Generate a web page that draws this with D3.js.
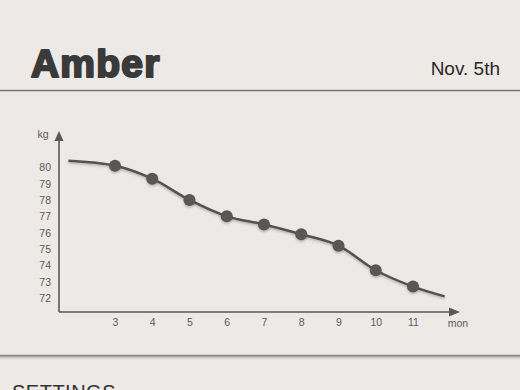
<!DOCTYPE html>
<html>
<head>
<meta charset="utf-8">
<script src="https://cdn.jsdelivr.net/npm/d3@7"></script>
<style>
  html, body { margin: 0; padding: 0; background: #ede9e6; }
  svg { display: block; font-family: 'Liberation Sans', Arial, sans-serif; }
</style>
</head>
<body>
<div id="chart"></div>
<script>
// months with a dot
var months = [3, 4, 5, 6, 7, 8, 9, 10, 11];
var weights = [80.1, 79.3, 78.0, 77.0, 76.5, 75.9, 75.2, 73.7, 72.7];
// the curve runs a little past the first and last dots
var lineMonths = [1.75, 3, 4, 5, 6, 7, 8, 9, 10, 11, 11.85];
var lineWeights = [80.4, 80.1, 79.3, 78.0, 77.0, 76.5, 75.9, 75.2, 73.7, 72.7, 72.1];
var yTicks = [72, 73, 74, 75, 76, 77, 78, 79, 80];
var userName = 'Amber';
var dateLabel = 'Nov. 5th';

var W = 520, H = 390;
var svg = d3.select('#chart').append('svg')
  .attr('width', W).attr('height', H);

var defs = svg.append('defs');
var shadow = defs.append('filter').attr('id', 'shadow')
  .attr('x', '-20%').attr('y', '-20%').attr('width', '140%').attr('height', '160%');
shadow.append('feDropShadow')
  .attr('dx', 0).attr('dy', 1.5).attr('stdDeviation', 1.2)
  .attr('flood-color', '#000').attr('flood-opacity', 0.25);

var grad = defs.append('linearGradient').attr('id', 'fade')
  .attr('x1', 0).attr('y1', 0).attr('x2', 0).attr('y2', 1);
grad.append('stop').attr('offset', 0).attr('stop-color', '#8a8580').attr('stop-opacity', 0.7);
grad.append('stop').attr('offset', 1).attr('stop-color', '#ede9e6').attr('stop-opacity', 0);

svg.append('rect').attr('width', W).attr('height', H).attr('fill', '#ede9e6');

// header
svg.append('text')
  .attr('x', 31).attr('y', 77)
  .attr('font-size', 39).attr('font-weight', 'bold')
  .attr('letter-spacing', 1.2)
  .attr('fill', '#3a3a3a').attr('stroke', '#3a3a3a').attr('stroke-width', 2.2)
  .attr('stroke-linejoin', 'round')
  .text(userName);

svg.append('text')
  .attr('x', 500).attr('y', 75)
  .attr('text-anchor', 'end')
  .attr('font-size', 19).attr('fill', '#2a2a2a')
  .text(dateLabel);

svg.append('line')
  .attr('x1', 0).attr('x2', W).attr('y1', 90.5).attr('y2', 90.5)
  .attr('stroke', '#7a7672').attr('stroke-width', 1.5);

// scales
var x = d3.scaleLinear().domain([3, 11]).range([115, 413]);
var y = d3.scaleLinear().domain([72, 80]).range([298, 167.3]);

var axisX0 = 59, axisY0 = 312;
var axisColor = '#5a5755';
var labelColor = '#5e5b59';

// y axis with arrow
svg.append('line')
  .attr('x1', axisX0).attr('x2', axisX0).attr('y1', 138).attr('y2', axisY0)
  .attr('stroke', axisColor).attr('stroke-width', 1.6);
svg.append('path')
  .attr('d', 'M' + axisX0 + ',131 L' + (axisX0 - 4.5) + ',141 L' + (axisX0 + 4.5) + ',141 Z')
  .attr('fill', axisColor);
svg.append('text')
  .attr('x', 43).attr('y', 138)
  .attr('text-anchor', 'middle')
  .attr('font-size', 10.5).attr('fill', labelColor)
  .text('kg');

var yAxis = d3.axisLeft(y).tickValues(yTicks).tickSize(0).tickPadding(0);
var gy = svg.append('g')
  .attr('transform', 'translate(51,0)')
  .call(yAxis);
gy.select('.domain').remove();
gy.selectAll('text')
  .attr('font-size', 10.5).attr('fill', labelColor)
  .attr('font-family', 'Liberation Sans, Arial, sans-serif');

// x axis with arrow
svg.append('line')
  .attr('x1', axisX0).attr('x2', 452).attr('y1', axisY0).attr('y2', axisY0)
  .attr('stroke', axisColor).attr('stroke-width', 1.6);
svg.append('path')
  .attr('d', 'M460,' + axisY0 + ' L449,' + (axisY0 - 4.5) + ' L449,' + (axisY0 + 4.5) + ' Z')
  .attr('fill', axisColor);

var xAxis = d3.axisBottom(x).tickValues(months).tickSize(0).tickPadding(0);
var gx = svg.append('g')
  .attr('transform', 'translate(0,' + (axisY0 + 7) + ')')
  .call(xAxis);
gx.select('.domain').remove();
gx.selectAll('text')
  .attr('font-size', 10.5).attr('fill', labelColor)
  .attr('font-family', 'Liberation Sans, Arial, sans-serif');

svg.append('text')
  .attr('x', 458).attr('y', 327)
  .attr('text-anchor', 'middle')
  .attr('font-size', 10.5).attr('fill', labelColor)
  .text('mon');

// weight curve
var line = d3.line()
  .x(function(d, i){ return x(lineMonths[i]); })
  .y(function(d){ return y(d); })
  .curve(d3.curveMonotoneX);

svg.append('path')
  .datum(lineWeights)
  .attr('d', line)
  .attr('fill', 'none')
  .attr('stroke', '#555250')
  .attr('stroke-width', 2.5)
  .attr('filter', 'url(#shadow)');

svg.selectAll('circle.dot')
  .data(weights)
  .enter().append('circle')
    .attr('class', 'dot')
    .attr('cx', function(d, i){ return x(months[i]); })
    .attr('cy', function(d){ return y(d); })
    .attr('r', 6)
    .attr('fill', '#5a5756')
    .attr('filter', 'url(#shadow)');

// footer divider
svg.append('rect')
  .attr('x', 0).attr('y', 356).attr('width', W).attr('height', 5)
  .attr('fill', 'url(#fade)');
svg.append('line')
  .attr('x1', 0).attr('x2', W).attr('y1', 355.5).attr('y2', 355.5)
  .attr('stroke', '#8f8a86').attr('stroke-width', 1.5);

// only the top of this heading is visible, as in the reference
svg.append('text')
  .attr('x', 12).attr('y', 399)
  .attr('font-size', 20).attr('fill', '#333')
  .attr('letter-spacing', 0.5)
  .text('SETTINGS');
</script>
</body>
</html>
